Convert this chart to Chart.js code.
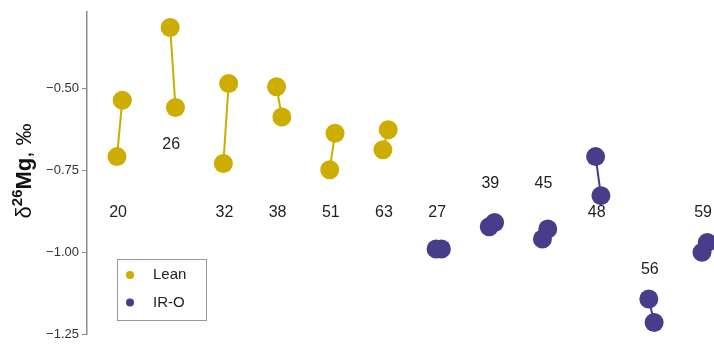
<!DOCTYPE html>
<html>
<head>
<meta charset="utf-8">
<script src="https://cdn.jsdelivr.net/npm/chart.js@4"></script>
<style>
  html, body { margin: 0; padding: 0; background: #fff; overflow: hidden; }
  #wrap { width: 714px; height: 349px; }
</style>
</head>
<body>
<div id="wrap"><canvas id="myChart" width="714" height="349"></canvas></div>
<script>
const ctx = document.getElementById('myChart');

// sample ids, two measurements per sample
var leanIds = ['20', '26', '32', '38', '51', '63'];
var leanFirst = [-0.709, -0.315, -0.730, -0.496, -0.749, -0.688];
var leanSecond = [-0.537, -0.559, -0.486, -0.588, -0.638, -0.627];
var leanLabelY = [-0.881, -0.671, -0.881, -0.881, -0.881, -0.881];

var iroIds = ['27', '39', '45', '48', '56', '59'];
var iroFirst = [-0.991, -0.923, -0.960, -0.709, -1.143, -1.001];
var iroSecond = [-0.991, -0.910, -0.930, -0.828, -1.215, -0.971];
var iroLabelY = [-0.881, -0.791, -0.791, -0.881, -1.055, -0.881];

var yTicks = [-1.25, -1.00, -0.75, -0.50];

var gold = '#CDAD00';
var slate = '#483D8B';
var fontFam = '"Liberation Sans", Arial, Helvetica, sans-serif';

// pairs joined by a segment, null breaks the line between samples
function pairs(first, second, start) {
  var out = [];
  for (var i = 0; i < first.length; i++) {
    out.push({ x: start + i, y: first[i] });
    out.push({ x: start + i + 0.1, y: second[i] });
    out.push({ x: start + i + 0.5, y: null });
  }
  return out;
}

var sampleLabels = {
  id: 'sampleLabels',
  afterDatasetsDraw(chart) {
    var c = chart.ctx, xs = chart.scales.x, ys = chart.scales.y;
    c.save();
    c.font = '16px ' + fontFam;
    c.fillStyle = '#222';
    c.textAlign = 'center';
    c.textBaseline = 'middle';
    leanIds.forEach(function (id, i) {
      c.fillText(id, xs.getPixelForValue(1 + i + 0.02), ys.getPixelForValue(leanLabelY[i]));
    });
    iroIds.forEach(function (id, i) {
      c.fillText(id, xs.getPixelForValue(7 + i + 0.02), ys.getPixelForValue(iroLabelY[i]));
    });
    c.restore();
  }
};

var boxLegend = {
  id: 'boxLegend',
  afterDraw(chart) {
    var c = chart.ctx;
    var items = [['Lean', gold], ['IR-O', slate]];
    c.save();
    c.fillStyle = '#fff';
    c.fillRect(117.5, 259.5, 89, 61);
    c.strokeStyle = '#999';
    c.lineWidth = 1;
    c.strokeRect(117.5, 259.5, 89, 61);
    c.font = '15px ' + fontFam;
    c.textBaseline = 'middle';
    items.forEach(function (it, k) {
      var y = 275 + k * 27.5;
      c.fillStyle = it[1];
      c.beginPath();
      c.arc(130, y, 4, 0, Math.PI * 2);
      c.fill();
      c.fillStyle = '#222';
      c.fillText(it[0], 153, y);
    });
    c.restore();
  }
};

// rotated axis title with superscript mass number
var yTitle = {
  id: 'yTitle',
  afterDraw(chart) {
    var c = chart.ctx;
    var parts = [
      ['δ', '22px ' + fontFam, 0],
      ['26', 'bold 15px ' + fontFam, -9],
      ['Mg', 'bold 22px ' + fontFam, 0],
      [', ‰', '22px ' + fontFam, 0]
    ];
    c.save();
    var total = 0;
    parts.forEach(function (p) { c.font = p[1]; total += c.measureText(p[0]).width; });
    c.translate(31, 171);
    c.rotate(-Math.PI / 2);
    c.fillStyle = '#111';
    c.textBaseline = 'alphabetic';
    var x = -total / 2;
    parts.forEach(function (p) {
      c.font = p[1];
      c.fillText(p[0], x, p[2]);
      x += c.measureText(p[0]).width;
    });
    c.restore();
  }
};

new Chart(ctx, {
  type: 'line',
  data: {
    datasets: [
      {
        label: 'Lean',
        data: pairs(leanFirst, leanSecond, 1),
        borderColor: gold,
        backgroundColor: gold,
        borderWidth: 2,
        pointRadius: 9.5,
        pointHoverRadius: 9.5,
        pointBorderWidth: 0,
        spanGaps: false
      },
      {
        label: 'IR-O',
        data: pairs(iroFirst, iroSecond, 7),
        borderColor: slate,
        backgroundColor: slate,
        borderWidth: 2,
        pointRadius: 9.5,
        pointHoverRadius: 9.5,
        pointBorderWidth: 0,
        spanGaps: false
      }
    ]
  },
  options: {
    responsive: false,
    animation: false,
    layout: { autoPadding: false, padding: { left: 0, right: 0, top: 12, bottom: 15 } },
    plugins: {
      legend: { display: false },
      tooltip: { enabled: false }
    },
    scales: {
      x: {
        type: 'linear',
        display: false,
        min: 0.436,
        max: 12.226
      },
      y: {
        min: -1.25,
        max: -0.268,
        afterBuildTicks: function (scale) {
          scale.ticks = yTicks.map(function (v) { return { value: v }; });
        },
        afterFit: function (scale) { scale.width = 87; },
        border: { display: true, color: '#8c8c8c', width: 1.5 },
        grid: { drawOnChartArea: false, drawTicks: true, tickLength: 5, color: '#8c8c8c', lineWidth: 1 },
        ticks: {
          padding: 3,
          color: '#333',
          font: { family: fontFam, size: 13 },
          callback: function (v) { return '\u2212' + Math.abs(v).toFixed(2); }
        }
      }
    }
  },
  plugins: [sampleLabels, boxLegend, yTitle]
});
</script>
</body>
</html>
